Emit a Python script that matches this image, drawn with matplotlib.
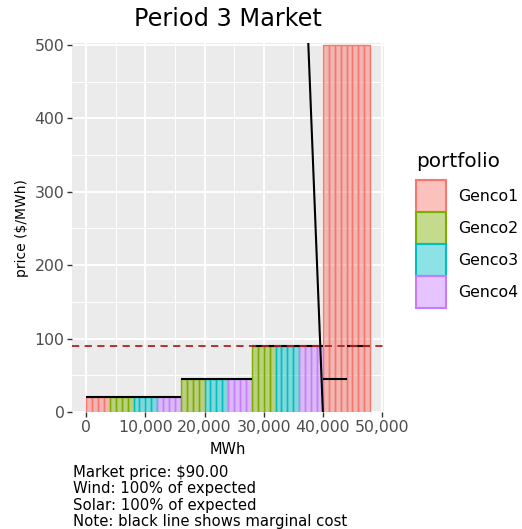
import numpy as np
import matplotlib
matplotlib.use("Agg")
import matplotlib.pyplot as plt
from matplotlib.patches import Patch

# supply blocks, in merit order (each block = 4 units of 1000 MWh)
portfolio = ["Genco1", "Genco2", "Genco3", "Genco4",
             "Genco2", "Genco3", "Genco4",
             "Genco2", "Genco3", "Genco4",
             "Genco1", "Genco1"]
block_mwh = [4000, 4000, 4000, 4000, 4000, 4000, 4000, 4000, 4000, 4000, 4000, 4000]
units_per_block = [4, 4, 4, 4, 4, 4, 4, 4, 4, 4, 4, 4]
bid_price = [20, 20, 20, 20, 45, 45, 45, 90, 90, 90, 500, 500]
marg_cost = [20, 20, 20, 20, 45, 45, 45, 90, 90, 90, 45, 90]

demand_mwh = [40000, 37300]
demand_price = [0, 550]

market_price = 90.0
wind_pct = 100
solar_pct = 100

genco_names = ["Genco1", "Genco2", "Genco3", "Genco4"]
genco_colors = {"Genco1": "#F8766D", "Genco2": "#7CAE00",
                "Genco3": "#00BFC4", "Genco4": "#C77CFF"}

fig = plt.figure(figsize=(5.22, 5.29), dpi=100)
ax = fig.add_axes([0.138, 0.2212, 0.5984, 0.6968])
ax.set_facecolor("#EBEBEB")
for s in ax.spines.values():
    s.set_visible(False)

# supply stack: one thin rectangle per unit
starts = np.concatenate([[0], np.cumsum(block_mwh)[:-1]])
for x0, w, n, p, g in zip(starts, block_mwh, units_per_block, bid_price, portfolio):
    uw = w / n
    ax.bar(x0 + uw * np.arange(n), [p] * n, width=uw, align="edge",
           color=genco_colors[g], alpha=0.45, edgecolor="none", zorder=2)
    ax.bar(x0 + uw * np.arange(n), [p] * n, width=uw, align="edge",
           facecolor="none", edgecolor=genco_colors[g], linewidth=1.0, zorder=2)

# marginal cost
ax.hlines(marg_cost, starts, starts + np.array(block_mwh), colors="black",
          linewidth=1.5, zorder=3)
# demand
ax.plot(demand_mwh, demand_price, color="black", linewidth=1.5, zorder=3)
# market price
ax.axhline(market_price, color="#B22222", linestyle=(0, (4, 3)), linewidth=1.3, zorder=4)

ax.set_xlim(-2400, 50400)
ax.set_ylim(0, 502)
ax.set_xticks(np.arange(0, 50001, 10000))
ax.set_xticks(np.arange(5000, 50000, 10000), minor=True)
ax.set_yticks(np.arange(0, 501, 100))
ax.set_yticks(np.arange(50, 500, 100), minor=True)
ax.set_xticklabels([f"{v:,}" for v in range(0, 50001, 10000)])
ax.grid(True, which="major", color="white", linewidth=1.4, zorder=0)
ax.grid(True, which="minor", color="white", linewidth=0.7, zorder=0)
ax.set_axisbelow(True)
ax.tick_params(which="major", length=3.5, width=1.0, color="#333333",
               labelcolor="#4D4D4D", labelsize=11.3, pad=2)
ax.tick_params(which="minor", length=0)

ax.set_xlabel("MWh", fontsize=10.5, labelpad=5)
ax.set_ylabel("price ($/MWh)", fontsize=10, labelpad=4)
fig.text(0.437, 0.964, "Period 3 Market", ha="center", va="center", fontsize=17.3)

caption = (f"Market price: ${market_price:.2f}\n"
           f"Wind: {wind_pct}% of expected\n"
           f"Solar: {solar_pct}% of expected\n"
           "Note: black line shows marginal cost")
fig.text(0.14, 0.0, caption, ha="left", va="bottom", fontsize=10.7, linespacing=1.12)

handles = [Patch(facecolor=matplotlib.colors.to_rgba(genco_colors[g], 0.45),
                 edgecolor=genco_colors[g], linewidth=1.5) for g in genco_names]
leg = fig.legend(handles, genco_names, title="portfolio", loc="upper left",
                 bbox_to_anchor=(0.785, 0.725), frameon=False, fontsize=11.3,
                 title_fontsize=14.4, handlelength=1.9, handleheight=2.76,
                 labelspacing=0.0, handletextpad=0.8, borderaxespad=0)
leg._legend_box.align = "left"
leg._legend_box.sep = 7

fig.savefig("out.png", dpi=100)
